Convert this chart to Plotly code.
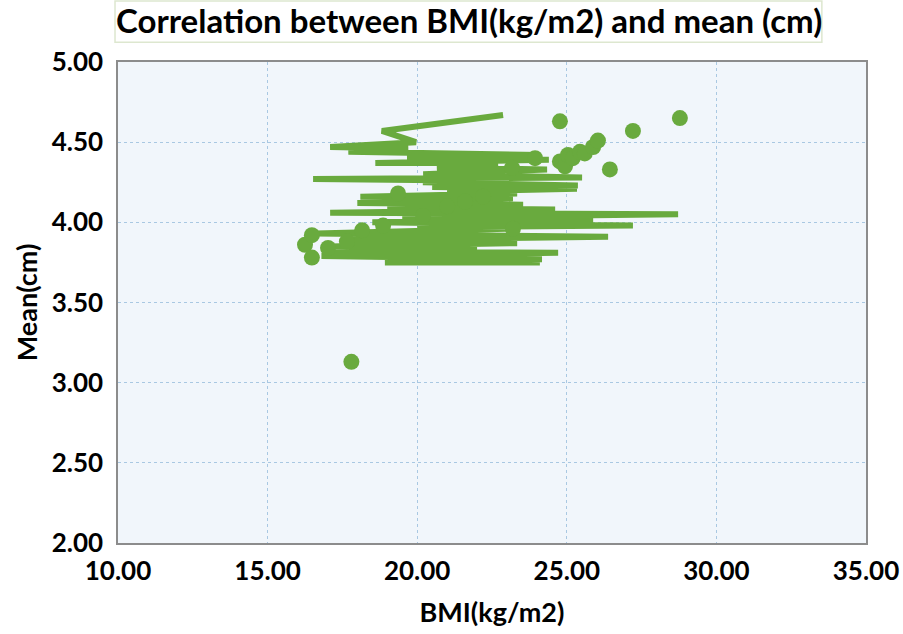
import plotly.graph_objects as go

# Zig-zag line series (data order): BMI (kg/m2) and Mean (cm)
line_bmi = [22.87, 18.82, 19.96, 17.09, 19.70, 17.70, 24.10, 19.66, 24.40, 18.60,
            22.70, 20.66, 24.34, 20.20, 25.51, 16.52, 22.50, 20.19, 25.37, 20.50,
            25.34, 21.00, 23.34, 18.10, 23.20, 18.00, 23.54, 19.00, 24.61, 17.09,
            28.72, 19.50, 25.88, 18.50, 27.21, 20.00, 23.00, 16.60, 26.38, 17.50,
            23.34, 17.00, 22.00, 17.20, 24.71, 16.80, 24.17, 18.92, 24.10]
line_mean = [4.67, 4.57, 4.50, 4.47, 4.46, 4.44, 4.42, 4.40, 4.39, 4.37,
             4.37, 4.34, 4.33, 4.30, 4.28, 4.27, 4.26, 4.25, 4.23, 4.22,
             4.21, 4.19, 4.18, 4.16, 4.15, 4.12, 4.11, 4.09, 4.08, 4.06,
             4.05, 4.03, 4.02, 4.00, 3.98, 3.97, 3.96, 3.93, 3.91, 3.89,
             3.87, 3.85, 3.84, 3.82, 3.81, 3.79, 3.77, 3.75, 3.75]

# Visible marker points
pt_bmi = [17.80, 16.25, 16.48, 16.48, 17.02, 17.65, 18.16, 18.86, 19.36, 20.2,
          21.0, 21.6, 22.2, 23.17, 23.20, 23.94, 24.77, 24.94, 24.77, 25.04,
          25.20, 25.44, 25.60, 25.88, 26.04, 26.44, 27.21, 28.78]
pt_mean = [3.13, 3.86, 3.92, 3.78, 3.84, 3.88, 3.95, 3.98, 4.18, 4.04,
           4.10, 4.13, 4.16, 4.34, 3.96, 4.40, 4.38, 4.35, 4.63, 4.42,
           4.40, 4.44, 4.43, 4.47, 4.51, 4.33, 4.57, 4.65]

x_ticks = [10, 15, 20, 25, 30, 35]
y_ticks = [2.0, 2.5, 3.0, 3.5, 4.0, 4.5, 5.0]

green = "#69aa3e"
font_family = "Lato, 'Open Sans', sans-serif"

fig = go.Figure()
fig.add_trace(go.Scatter(x=line_bmi, y=line_mean, mode="lines",
                         line=dict(color=green, width=6), hoverinfo="skip",
                         showlegend=False))
fig.add_trace(go.Scatter(x=pt_bmi, y=pt_mean, mode="markers",
                         marker=dict(color=green, size=16, symbol="circle",
                                     line=dict(color=green, width=0)),
                         showlegend=False))

fig.update_layout(
    width=903, height=634,
    margin=dict(l=118, r=37, t=62, b=91),
    paper_bgcolor="white",
    plot_bgcolor="#f1f6fb",
    font=dict(family=font_family, color="black"),
    xaxis=dict(range=[10, 35], tickvals=x_ticks,
               ticktext=[f"{v:.2f}" for v in x_ticks],
               tickfont=dict(size=26, family=font_family, weight="bold"),
               showgrid=True, gridcolor="#a9c8e2", griddash="dot", gridwidth=1,
               showline=True, linecolor="#8c8c8c", linewidth=1.5, mirror=True,
               zeroline=False, ticks="", ticklabelstandoff=4, automargin=False,
               title=dict(text="<b>BMI(kg/m2)</b>", font=dict(size=27),
                          standoff=18)),
    yaxis=dict(range=[2, 5], tickvals=y_ticks,
               ticktext=[f"{v:.2f}" for v in y_ticks],
               tickfont=dict(size=26, family=font_family, weight="bold"),
               showgrid=True, gridcolor="#a9c8e2", griddash="dot", gridwidth=1,
               showline=True, linecolor="#8c8c8c", linewidth=1.5, mirror=True,
               zeroline=False, ticks="", ticklabelstandoff=8, automargin=False,
               title=dict(text="<b>Mean(cm)</b>", font=dict(size=27),
                          standoff=6)),
)

fig.add_annotation(
    text="<b>Correlation between BMI(kg/m2) and mean (cm)</b>",
    xref="paper", yref="paper", x=0.469, y=1.087,
    xanchor="center", yanchor="middle", showarrow=False,
    font=dict(size=33, family=font_family, color="black"),
)
fig.add_shape(type="rect", xref="paper", yref="paper",
              x0=-0.004, x1=0.941, y0=1.041, y1=1.127,
              line=dict(color="#dde7cf", width=1.5), fillcolor="rgba(0,0,0,0)")

fig.write_html("out.html", config={"displayModeBar": False},
               post_script="document.body.style.margin='0';")
